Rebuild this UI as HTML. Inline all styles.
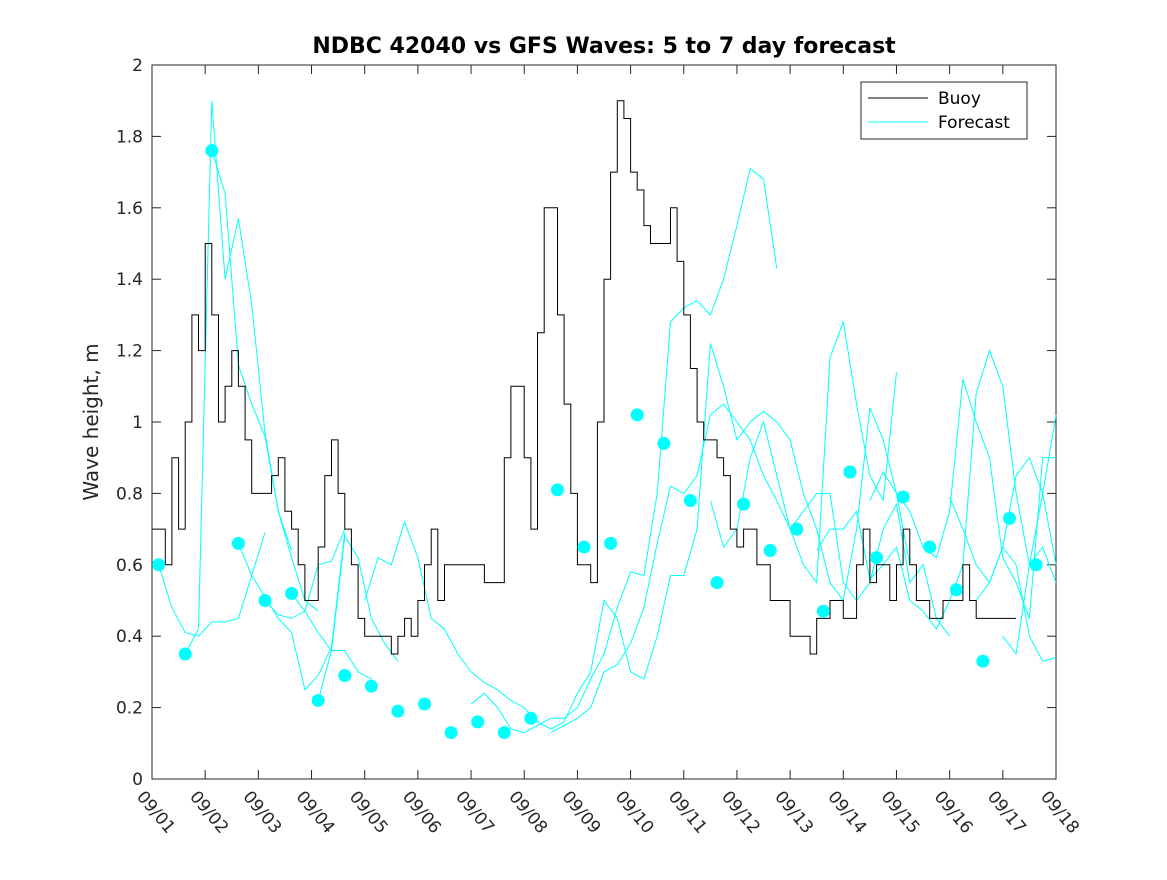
<!DOCTYPE html>
<html><head><meta charset="utf-8"><style>
body{margin:0;background:#fff}
svg{font-family:"DejaVu Sans","Liberation Sans",sans-serif}
</style></head><body>
<svg id="chart" width="1167" height="875">
<rect width="1167" height="875" fill="#fff"/>
</svg>
<script>
const xLabels=["09/01","09/02","09/03","09/04","09/05","09/06","09/07","09/08","09/09","09/10","09/11","09/12","09/13","09/14","09/15","09/16","09/17","09/18"];
const yTicks=[0,0.2,0.4,0.6,0.8,1,1.2,1.4,1.6,1.8,2];
// buoy sampled every 1/8 day
const buoyValues=[0.7,0.7,0.6,0.9,0.7,1.0,1.3,1.2,1.5,1.3,1.0,1.1,1.2,1.1,0.95,0.8,0.8,0.8,0.85,0.9,0.75,0.7,0.6,0.5,0.5,0.65,0.85,0.95,0.8,0.7,0.6,0.45,0.4,0.4,0.4,0.4,0.35,0.4,0.45,0.4,0.5,0.6,0.7,0.5,0.6,
0.6,0.6,0.6,0.6,0.6,0.55,0.55,0.55,0.9,1.1,1.1,0.9,0.7,1.25,1.6,1.6,1.3,1.05,0.8,0.6,0.6,0.55,1.0,1.4,1.7,1.9,1.85,1.7,1.65,1.55,1.5,1.5,1.5,1.6,1.45,1.3,1.15,1.0,0.95,0.95,0.9,0.85,0.7,0.65,
0.7,0.7,0.6,0.6,0.5,0.5,0.5,0.4,0.4,0.4,0.35,0.45,0.45,0.5,0.5,0.45,0.45,0.6,0.7,0.55,0.6,0.6,0.5,0.6,0.7,0.6,0.5,0.5,0.45,0.45,0.5,0.5,0.5,0.6,0.5,0.45,0.45,0.45,0.45,0.45,0.45];
const dotValues=[0.6,0.35,1.76,0.66,0.5,0.52,0.22,0.29,0.26,0.19,0.21,0.13,0.16,0.13,0.17,0.81,0.65,0.66,1.02,0.94,0.78,0.55,0.77,0.64,0.70,0.47,0.86,0.62,0.79,0.65,0.53,0.33,0.73,0.60];
const runStarts=[0.125,0.625,1.125,1.625,2.125,2.625,3.125,4.0,6.0,7.5,10.5,12.5,13.5,15.0,15.5,16.0];
const runValues=[
[0.6,0.48,0.41,0.4,0.44,0.44,0.45,0.57,0.69],
[0.35,0.42,1.9,1.4,1.57,1.33,0.97,0.75,0.64],
[1.76,1.64,1.16,1.05,0.96,0.75,0.62,0.5,0.47],
[0.66,0.57,0.51,0.45,0.41,0.25,0.29,0.37,0.69],
[0.5,0.46,0.45,0.47,0.6,0.61,0.7],
[0.52,0.47,0.41,0.36,0.36,0.3,0.28],
[0.22,0.36,0.68,0.62,0.45,0.38,0.33],
[0.5,0.62,0.6,0.72,0.62,0.45,0.42,0.35,0.3,0.27,0.25,0.22,0.2,0.16,0.14,0.16,0.24,0.3,0.5,0.45,0.3,0.28,0.4,0.57,0.57,0.7,1.22,1.1,0.95,1.0,1.03,1.0,0.95,0.8,0.7,0.55,0.5,0.7,1.04,0.95,0.8,0.6],
[0.21,0.24,0.2,0.14,0.13,0.15,0.17,0.17,0.2,0.28,0.35,0.48,0.58,0.57,0.8,1.28,1.32,1.34,1.3,1.4,1.55,1.71,1.68,1.43],
[0.13,0.15,0.17,0.2,0.3,0.32,0.38,0.48,0.66,0.82,0.8,0.85,1.02,1.05,1.0,0.95,0.85,0.78,0.7,0.75,0.8,0.8,0.55,0.5,0.55,0.7,0.77,0.55,0.6,0.45,0.4],
[0.78,0.65,0.7,0.9,1.0,0.85,0.7,0.6,0.55,1.18,1.28,1.05,0.85,0.78,1.14],
[0.64,0.7,0.7,0.75,0.56,0.6,0.65,0.5,0.47,0.42,0.5,0.6,1.08,1.2,1.1,0.8,0.6,0.65,0.55,0.5,0.44,0.5,0.65],
[0.78,0.86,0.8,0.75,0.65,0.62,0.75,1.12,1.0,0.9,0.62,0.55,0.45,0.9,0.9,0.8,0.52],
[0.79,0.7,0.6,0.55,0.65,0.85,0.9,0.8,0.6],
[0.5,0.55,0.65,0.6,0.4,0.33,0.34],
[0.4,0.35,0.6,0.8,1.02]
];
const NS="http://www.w3.org/2000/svg";
const svg=document.getElementById('chart');
const L=152,R=1056,T=65,B=779;
const xs=d=>L+(R-L)*d/17;
const ys=v=>B-(B-T)*v/2;
function el(tag,attrs,parent){const e=document.createElementNS(NS,tag);for(const k in attrs)e.setAttribute(k,attrs[k]);(parent||svg).appendChild(e);return e;}
const box=el('rect',{x:L,y:T,width:R-L,height:B-T,fill:'none',stroke:'#262626','stroke-width':1});


yTicks.forEach(v=>{
  el('line',{x1:L,x2:L+9,y1:ys(v),y2:ys(v),stroke:'#262626'});
  el('line',{x1:R,x2:R-9,y1:ys(v),y2:ys(v),stroke:'#262626'});
  const t=el('text',{x:L-9,y:ys(v)+6,'text-anchor':'end','font-size':17,fill:'#262626'});
  t.textContent=String(v);
  
  
});
xLabels.forEach((s,i)=>{
  const x=xs(i);
  el('line',{x1:x,x2:x,y1:B,y2:B-9,stroke:'#262626'});
  el('line',{x1:x,x2:x,y1:T,y2:T+9,stroke:'#262626'});
  const t=el('text',{x:x-16,y:B+18,'font-size':17,fill:'#262626',transform:`rotate(50 ${x-16} ${B+18})`});
  t.textContent=s;
  
  
});
runValues.forEach((vals,r)=>{
  const pts=vals.map((v,i)=>[runStarts[r]+i*0.25,v]).filter(p=>p[0]<=17).map(p=>xs(p[0]).toFixed(1)+','+ys(p[1]).toFixed(1));
  const pl=el('polyline',{points:pts.join(' '),fill:'none',stroke:'#00ffff','stroke-width':1});
  
  
});
let d='';
const st=0.125;
buoyValues.forEach((v,i)=>{const x0=xs(i*st),x1=xs(i*st+st);d+=(i?'L':'M')+x0.toFixed(1)+','+ys(v).toFixed(1)+'L'+x1.toFixed(1)+','+ys(v).toFixed(1);});
const bp=el('path',{d:d,fill:'none',stroke:'#000','stroke-width':1});


dotValues.forEach((v,i)=>{
  const c=el('circle',{cx:xs(0.125+i*0.5),cy:ys(v),r:6.5,fill:'#00ffff'});
  
  
});
const ti=el('text',{x:604,y:53,'text-anchor':'middle','font-size':22,'font-weight':'bold',fill:'#000'});
ti.textContent='NDBC 42040 vs GFS Waves: 5 to 7 day forecast';


const yl=el('text',{x:98,y:422,'text-anchor':'middle','font-size':20,fill:'#262626',transform:'rotate(-90 98 422)'});
yl.textContent='Wave height, m';


const lg=el('g',{});


el('rect',{x:861,y:82,width:166,height:57,fill:'#fff',stroke:'#262626'},lg);
el('line',{x1:868,x2:928,y1:98,y2:98,stroke:'#000'},lg);
el('line',{x1:868,x2:928,y1:122,y2:122,stroke:'#00ffff'},lg);
const l1=el('text',{x:938,y:104,'font-size':17,fill:'#000'},lg);l1.textContent='Buoy';


const l2=el('text',{x:938,y:128,'font-size':17,fill:'#000'},lg);l2.textContent='Forecast';


</script>
</body></html>
